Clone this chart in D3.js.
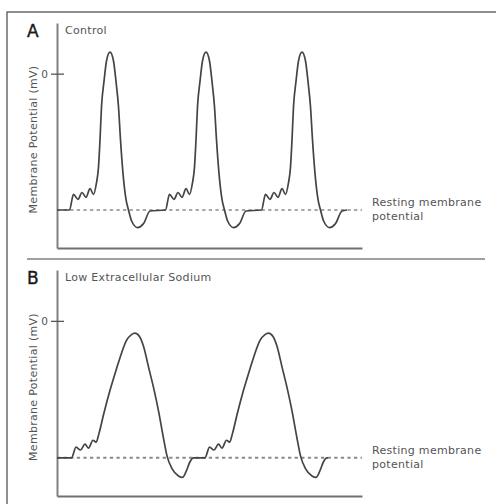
<!DOCTYPE html>
<html>
<head>
<meta charset="utf-8">
<script src="https://cdn.jsdelivr.net/npm/d3@7"></script>
<style>
  body { margin: 0; background: #fff; }
  svg { display: block; font-family: "DejaVu Sans", sans-serif; }
  .lbl { fill: #555; font-size: 11px; letter-spacing: 0.3px; }
  .letter { fill: #1a1a1a; font-size: 17px; stroke: #1a1a1a; stroke-width: 0.4px; }
</style>
</head>
<body>
<svg id="chart" width="496" height="504"></svg>
<script>
// time in arbitrary units, membrane potential in mV
const controlTime = [
  0, 12.5, 16.5, 21, 25, 29, 33, 36.5, 39.5, 41.5, 43, 44.5, 47, 49.5, 53, 56.5, 59, 61.5, 63.5, 66.5, 69, 71.5, 74.5, 80.5, 86.5, 93,
  108.5, 112.5, 117, 121, 125, 129, 132.5, 135.5, 137.5, 139, 140.5, 143, 145.5, 149, 152.5, 155, 157.5, 159.5, 162.5, 165, 167.5, 170.5, 176.5, 182.5, 189,
  204.5, 208.5, 213, 217, 221, 225, 228.5, 231.5, 233.5, 235, 236.5, 239, 241.5, 245, 248.5, 251, 253.5, 255.5, 258.5, 261, 263.5, 266.5, 272.5, 278.5, 285, 290
];
const controlMv = [
  -70, -70, -62, -64.5, -61, -63.5, -59, -62, -56, -48, -34, -17, -4, 6.5, 11, 6.5, -4, -17, -34, -54, -64.5, -70, -75.5, -79, -77, -70.5,
  -70, -62, -64.5, -61, -63.5, -59, -62, -56, -48, -34, -17, -4, 6.5, 11, 6.5, -4, -17, -34, -54, -64.5, -70, -75.5, -79, -77, -70.5,
  -70, -62, -64.5, -61, -63.5, -59, -62, -56, -48, -34, -17, -4, 6.5, 11, 6.5, -4, -17, -34, -54, -64.5, -70, -75.5, -79, -77, -70.5, -70
];
const sodiumTime = [
  0, 14.5, 19, 23.5, 28, 31.5, 36, 39, 42, 46.5, 53, 59.5, 64.5, 69.5, 74.5, 78, 82.5, 86.5, 91.5, 96.5, 101.5, 106.5, 110, 115, 121.5, 125.5, 129.5, 133, 136.5,
  148, 152.5, 157, 161.5, 165, 169.5, 172.5, 175.5, 180, 186.5, 193, 198, 203, 208, 211.5, 216, 220, 225, 230, 235, 240, 243.5, 248.5, 255, 259, 263, 266.5, 270, 271
];
const sodiumMv = [
  -70, -70, -64.5, -66, -63, -65, -61, -62, -57.5, -48, -35.5, -24.5, -16.5, -10, -7, -6.3, -8, -13, -23.5, -34, -46, -60, -69, -75.5, -79.3, -80, -76.5, -72, -70,
  -70, -64.5, -66, -63, -65, -61, -62, -57.5, -48, -35.5, -24.5, -16.5, -10, -7, -6.3, -8, -13, -23.5, -34, -46, -60, -69, -75.5, -79.3, -80, -76.5, -72, -70, -70
];
const restingMv = -70;
const yTicks = [0];
const panelLetters = ["A", "B"];
const panelTitles = ["Control", "Low Extracellular Sodium"];

const svg = d3.select('#chart');

// outer frame, cut off at right and bottom
svg.append('rect')
  .attr('x', 7).attr('y', 12).attr('width', 500).attr('height', 500)
  .attr('fill', 'none').attr('stroke', '#555').attr('stroke-width', 1.3);

svg.append('line')
  .attr('x1', 27).attr('x2', 485).attr('y1', 259).attr('y2', 259)
  .attr('stroke', '#a0a0a0').attr('stroke-width', 2);

const x = d3.scaleLinear().domain([0, 305]).range([57, 362]);

const panels = [
  { time: controlTime, mv: controlMv, top: 23, bottom: 248, dashW: 1.4 },
  { time: sodiumTime, mv: sodiumMv, top: 270, bottom: 496, dashW: 2 }
];

panels.forEach((p, i) => {
  const y = d3.scaleLinear().domain([-89.5, 26]).range([p.bottom, p.top]);
  const g = svg.append('g');

  // resting potential
  g.append('line')
    .attr('x1', x(0)).attr('x2', x(305))
    .attr('y1', y(restingMv)).attr('y2', y(restingMv))
    .attr('stroke', '#8a8a8a').attr('stroke-width', p.dashW)
    .attr('stroke-dasharray', '3.3,3.3');

  const yAxis = g.append('g')
    .attr('transform', `translate(${x(0)},0)`)
    .call(d3.axisLeft(y).tickValues(yTicks).tickSizeInner(0).tickSizeOuter(0).tickPadding(9));
  yAxis.select('.domain').attr('stroke', '#808080').attr('stroke-width', 2);
  yAxis.selectAll('.tick line').attr('x1', -6).attr('x2', 7).attr('stroke', '#555').attr('stroke-width', 1.3);
  yAxis.selectAll('.tick text').attr('fill', '#555').attr('font-size', '10.5px')
    .attr('font-family', '"DejaVu Sans", sans-serif');

  const xAxis = g.append('g')
    .attr('transform', `translate(0,${p.bottom})`)
    .call(d3.axisBottom(x).tickValues([]).tickSizeOuter(0));
  xAxis.select('.domain').attr('stroke', '#707070').attr('stroke-width', 2);

  const pts = p.time.map((t, k) => [t, p.mv[k]]);
  g.append('path')
    .datum(pts)
    .attr('d', d3.line().x(d => x(d[0])).y(d => y(d[1])).curve(d3.curveMonotoneX))
    .attr('fill', 'none').attr('stroke', '#444').attr('stroke-width', 1.7)
    .attr('stroke-linejoin', 'round');

  g.append('text').attr('class', 'letter')
    .attr('x', 27).attr('y', p.top + 13.5).text(panelLetters[i]);
  g.append('text').attr('class', 'lbl')
    .attr('x', 65).attr('y', p.top + 10.5).text(panelTitles[i]);

  g.append('text').attr('class', 'lbl')
    .attr('text-anchor', 'middle')
    .attr('transform', `translate(37,${(p.top + p.bottom) / 2 + 4}) rotate(-90)`)
    .text('Membrane Potential (mV)');

  const rl = g.append('text').attr('class', 'lbl')
    .attr('x', 372).attr('y', y(restingMv) - 4);
  rl.append('tspan').attr('x', 372).text('Resting membrane');
  rl.append('tspan').attr('x', 372).attr('dy', 14).text('potential');
});
</script>
</body>
</html>
